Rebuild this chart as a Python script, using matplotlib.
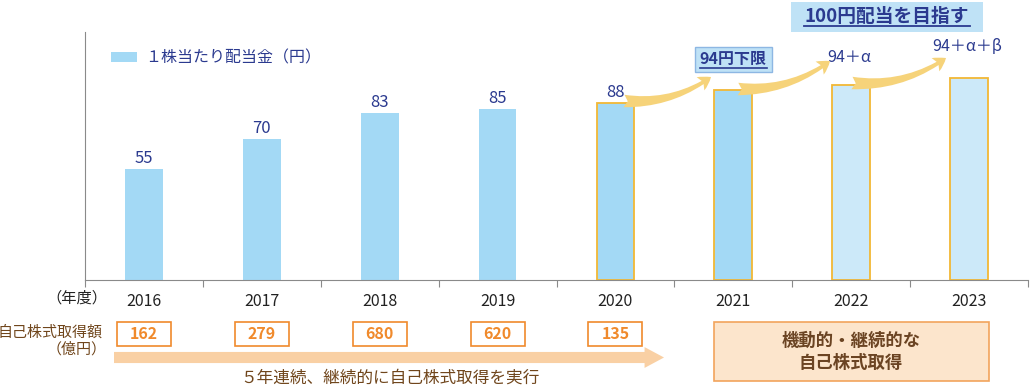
import numpy as np
import matplotlib.pyplot as plt
from matplotlib.patches import FancyArrowPatch, Rectangle, Patch
from matplotlib.lines import Line2D

plt.rcParams['font.family'] = ['Noto Sans CJK JP', 'DejaVu Sans']

# data
years = ['2016', '2017', '2018', '2019', '2020', '2021', '2022', '2023']
dividend = [55, 70, 83, 85, 88, 94, 96.5, 100]
div_labels = ['55', '70', '83', '85', '88', '94円下限', '94＋α', '94＋α＋β']
buyback = [162, 279, 680, 620, 135]

W, H = 1030, 387
fig = plt.figure(figsize=(W / 100, H / 100), dpi=100)


def px(x, y):
    # pixel position (from top-left) -> figure fraction
    return (x / W, 1 - y / H)


ax = fig.add_axes([85 / W, 1 - 280 / H, 943 / W, 248 / H])

navy = '#2b3a8f'
brown = '#70461c'
orange = '#f08a2c'
gold = '#f2b835'

# bars
x = np.arange(len(years))
colors = ['#a3d9f5'] * 6 + ['#cce9f9'] * 2
edges = ['none'] * 4 + [gold] * 4
ax.bar(x, dividend, width=0.32, color=colors, edgecolor=edges, linewidth=1.3)

ax.set_xlim(-0.5, 7.5)
ax.set_ylim(0, 123)
for s in ['top', 'right']:
    ax.spines[s].set_visible(False)
for s in ['left', 'bottom']:
    ax.spines[s].set_color('#8a8a8a')
ax.set_yticks([])
ax.set_xticks(np.arange(-0.5, 8, 1))
ax.set_xticklabels([])
ax.tick_params(axis='x', which='major', length=5, color='#8a8a8a')
ax.set_xticks(x, minor=True)
ax.set_xticklabels(years, minor=True, fontsize=11.5, color='#222222')
ax.tick_params(axis='x', which='minor', length=0, pad=9)

# value labels
for i, (v, lab) in enumerate(zip(dividend, div_labels)):
    if i < 5:
        ax.annotate(lab, (i, v), xytext=(0, 2), textcoords='offset pixels',
                    ha='center', va='bottom', fontsize=12, color=navy)
    elif i == 5:
        ax.annotate(lab, (i, v), xytext=(0, 31), textcoords='offset pixels',
                    ha='center', va='center', fontsize=11.5, color=navy,
                    fontweight='bold',
                    bbox=dict(boxstyle='square,pad=0.3', fc='#bfe2f6',
                              ec='#8db7e3', lw=1))
    else:
        ax.annotate(lab, (i, v), xytext=(-2, 19 + (i - 6) * 4),
                    textcoords='offset pixels', ha='center', va='bottom',
                    fontsize=11.5, color=navy)

# underline for 94円下限
fig.add_artist(Line2D([700 / W, 767 / W], [1 - 68 / H, 1 - 68 / H],
                      color=navy, lw=1.2))

# top goal box
fig.add_artist(Rectangle(px(791, 32), 192 / W, 30 / H, transform=fig.transFigure,
                         fc='#bfe2f6', ec='none'))
fig.text(*px(887, 16), '100円配当を目指す', ha='center', va='center',
         fontsize=13.5, fontweight='bold', color=navy)
fig.add_artist(Line2D([804 / W, 970 / W], [1 - 26 / H, 1 - 26 / H],
                      color=navy, lw=1.3))

# swoosh arrows
swoosh = [((624, 101), (711, 77)), ((738, 89), (830, 61)), ((852, 83), (946, 58))]
for a, b in swoosh:
    fig.add_artist(FancyArrowPatch(px(*a), px(*b), transform=fig.transFigure,
                                   arrowstyle='fancy,head_length=9,head_width=11,tail_width=9',
                                   mutation_scale=1, connectionstyle='arc3,rad=0.18',
                                   fc='#f6d37a', ec='none', shrinkA=0, shrinkB=0))

# legend
leg = fig.legend(handles=[Patch(fc='#a3d9f5', ec='none')],
                 labels=['１株当たり配当金（円）'],
                 loc='center left', bbox_to_anchor=px(111, 58),
                 bbox_transform=fig.transFigure, frameon=False, fontsize=11.5,
                 handlelength=1.65, handleheight=0.6, handletextpad=0.5,
                 borderpad=0, borderaxespad=0)
for t in leg.get_texts():
    t.set_color(navy)

# left row labels
fig.text(*px(107, 298), '（年度）', ha='right', va='center', fontsize=11,
         color='#222222')
fig.text(*px(103, 333), '自己株式取得額', ha='right', va='center', fontsize=10.8,
         color=brown)
fig.text(*px(107, 349), '（億円）', ha='right', va='center', fontsize=10.8,
         color=brown)

# buyback boxes
bw = 54 / 117.9
for i, val in enumerate(buyback):
    y0 = (280 - 346) / 248
    h = 24 / 248
    ax.add_patch(Rectangle((i - bw / 2, y0), bw, h,
                           transform=ax.get_xaxis_transform(), clip_on=False,
                           fc='white', ec=orange, lw=1.2))
    ax.text(i, y0 + h / 2, str(val), transform=ax.get_xaxis_transform(),
            ha='center', va='center', fontsize=11.5, fontweight='bold',
            color=orange)

# bottom arrow
fig.add_artist(FancyArrowPatch(px(114, 357.5), px(664, 357.5),
                               transform=fig.transFigure,
                               arrowstyle='simple,head_length=14,head_width=15,tail_width=8',
                               mutation_scale=1, fc='#f9d0a4', ec='none',
                               shrinkA=0, shrinkB=0))
fig.text(*px(390, 378), '５年連続、継続的に自己株式取得を実行', ha='center',
         va='center', fontsize=12, color=brown)

# right box
fig.add_artist(Rectangle(px(714, 381), 275 / W, 59 / H, transform=fig.transFigure,
                         fc='#fce5cc', ec='#f2a45c', lw=1.2))
fig.text(*px(851, 341), '機動的・継続的な', ha='center', va='center',
         fontsize=12.5, fontweight='bold', color='#6b4423')
fig.text(*px(851, 363), '自己株式取得', ha='center', va='center',
         fontsize=12.5, fontweight='bold', color='#6b4423')

fig.savefig('out.png', dpi=100)
